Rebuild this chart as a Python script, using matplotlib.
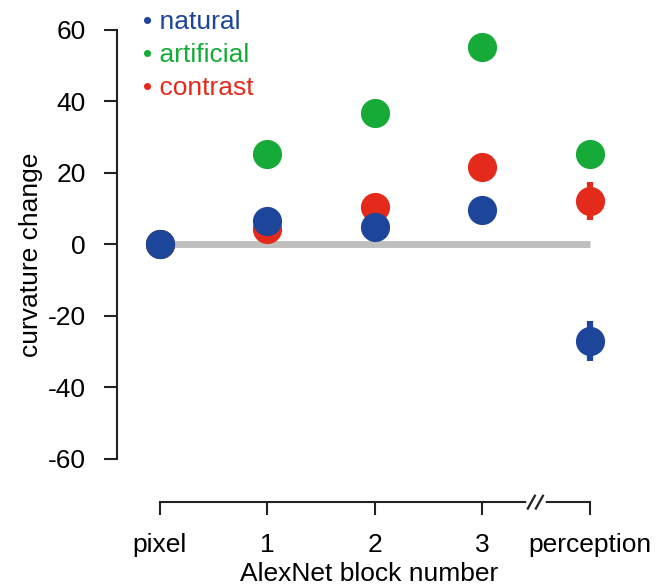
import matplotlib
matplotlib.use('Agg')
import matplotlib.pyplot as plt
import numpy as np

plt.rcParams['font.family'] = ['Liberation Sans', 'DejaVu Sans']

# data
stages = ['pixel', '1', '2', '3', 'perception']
natural = [0, 6.4, 4.8, 9.5, -27.1]
natural_err = [0, 0, 0, 1.5, 5.7]
artificial = [0, 25.2, 36.6, 55.1, 25.2]
artificial_err = [0, 0, 0, 0, 0]
contrast = [0, 4.2, 10.3, 21.5, 12.0]
contrast_err = [0, 0, 0, 0, 5.3]

c_nat = '#1d4599'
c_art = '#16ab38'
c_con = '#e42b1b'

fig = plt.figure(figsize=(6.57, 5.88), dpi=100)
ax = fig.add_axes([0.178, 0.146, 0.769, 0.840])

x = np.arange(len(stages))

# zero line
ax.plot([x[0], x[-1]], [0, 0], color='#bfbfbf', lw=5, solid_capstyle='butt', zorder=1)

ms = 21
for vals, errs, col in [(artificial, artificial_err, c_art),
                        (contrast, contrast_err, c_con),
                        (natural, natural_err, c_nat)]:
    ax.errorbar(x, vals, yerr=errs, fmt='o', color=col, ms=ms, mew=0,
                elinewidth=4.5, capsize=0, zorder=3)

ax.set_xlim(-0.4, 4.3)
ax.set_ylim(-72.2, 66)

ax.spines['top'].set_visible(False)
ax.spines['right'].set_visible(False)
ax.spines['left'].set_bounds(-60, 60)
ax.spines['bottom'].set_bounds(0, 4)
for s in ['left', 'bottom']:
    ax.spines[s].set_linewidth(1.5)
    ax.spines[s].set_color('#222222')

ax.set_yticks([-60, -40, -20, 0, 20, 40, 60])
ax.set_yticklabels(['-60', '-40', '-20', '0', '20', '40', '60'])
ax.set_xticks(x)
ax.set_xticklabels(stages)
ax.tick_params(axis='both', length=9.5, width=1.5, color='#222222', labelsize=19)
ax.tick_params(axis='y', pad=13)
ax.tick_params(axis='x', pad=13)

ax.set_ylabel('curvature change', fontsize=19, labelpad=3)
ax.set_xlabel('AlexNet block number', fontsize=19, labelpad=3)

# axis break
xt = ax.get_xaxis_transform()
ax.plot([3.43, 3.56], [0, 0], color='white', lw=4, transform=xt, clip_on=False, zorder=5)
for cx in [3.455, 3.53]:
    ax.plot([cx - 0.033, cx + 0.033], [-0.013, 0.013], color='#222222', lw=1.6,
            transform=xt, clip_on=False, zorder=6)

# legend
for lab, col, yy in [('natural', c_nat, 62.2), ('artificial', c_art, 52.8),
                     ('contrast', c_con, 43.6)]:
    ax.text(-0.16, yy, '\u2022 ' + lab, color=col, fontsize=19, va='center', ha='left')

fig.savefig('out.png', dpi=100)
